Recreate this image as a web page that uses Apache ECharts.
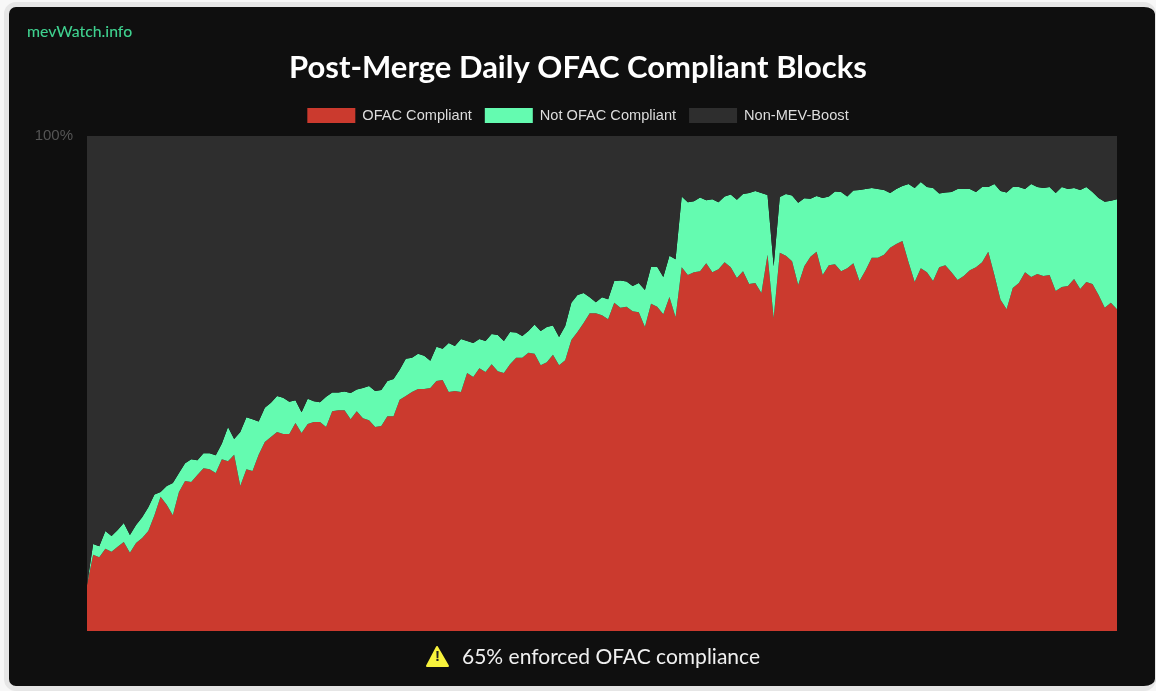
<!DOCTYPE html>
<html>
<head>
<meta charset="utf-8">
<style>
html,body{margin:0;padding:0;width:1156px;height:691px;background:#f7f7f7;overflow:hidden}
#frame{position:absolute;left:4px;top:2px;width:1152px;height:689px;box-sizing:border-box;border:5px solid #e6e6e6;border-right-width:1px;border-radius:12px;background:#0f0f0f}
#chart{position:absolute;left:0;top:0;width:1156px;height:691px}
</style>
<script src="https://cdn.jsdelivr.net/npm/echarts@6/dist/echarts.min.js"></script>
</head>
<body>
<div id="frame"></div>
<div id="chart"></div>
<script>
const titleText = 'Post-Merge Daily OFAC Compliant Blocks';
const siteText = 'mevWatch.info';
const footerText = '65% enforced OFAC compliance';
const seriesNames = ['OFAC Compliant', 'Not OFAC Compliant', 'Non-MEV-Boost'];
const yTickLabels = { 100: '100%' };

const ofacCompliant = [
9.3,15.4,14.9,16.6,16.0,17.0,18.0,15.8,17.8,18.8,20.2,23.4,27.1,25.5,23.4,28.1,30.3,30.1,31.5,32.9,
32.7,31.9,34.7,34.3,35.6,29.3,32.7,32.3,35.6,38.2,39.2,40.2,39.8,39.8,42.0,40.0,41.8,42.2,42.2,41.2,
44.4,44.6,44.6,42.8,44.4,43.0,42.6,41.2,41.4,43.4,43.4,46.7,47.5,48.3,48.9,48.9,49.1,50.5,50.7,48.3,
48.5,48.3,52.1,51.3,53.1,52.3,53.9,52.5,52.1,53.9,55.2,55.2,56.2,56.0,53.7,54.3,55.8,53.7,54.7,58.8,
60.4,62.2,64.2,64.2,63.8,63.0,66.3,65.3,65.5,64.6,64.4,61.4,66.1,65.5,64.0,67.5,63.4,73.5,71.9,72.5,
72.7,74.3,72.5,73.1,74.5,73.5,71.3,72.7,70.1,70.3,68.3,76.0,63.2,76.4,75.8,74.7,69.9,73.7,75.6,76.6,
71.9,73.9,74.1,72.7,73.3,74.3,70.7,72.9,75.4,75.4,76.0,77.4,78.2,78.8,74.5,70.5,73.3,72.5,70.7,73.5,
73.9,72.5,70.9,71.7,72.9,73.5,74.5,76.6,71.9,66.9,65.0,69.3,70.3,72.5,71.5,72.1,71.7,71.9,68.7,69.5,
69.7,71.1,69.1,70.5,70.1,67.9,65.3,66.3,65.0];

const notOfacCompliant = [
0,2.2,2.2,3.6,3.2,3.4,3.8,3.6,3.6,4.2,4.8,4.2,1.0,3.8,6.5,3.8,3.6,4.6,3.0,3.0,
3.2,3.6,3.2,6.9,3.2,10.9,10.5,10.5,6.7,6.9,6.9,7.3,7.3,6.5,4.6,4.2,5.1,4.2,4.0,6.1,
3.8,3.6,3.8,5.3,4.4,6.1,6.9,7.3,7.3,7.1,7.5,6.1,7.5,6.9,7.1,6.7,5.5,6.9,6.3,9.9,
9.1,10.7,6.5,6.9,5.9,6.3,6.1,7.3,6.5,6.5,5.1,4.4,4.4,5.9,6.9,7.1,5.9,5.7,6.9,7.5,
7.5,6.1,3.2,2.2,3.6,4.0,4.4,5.5,5.1,5.1,5.9,7.5,7.5,8.1,7.5,8.3,11.7,14.3,14.7,14.3,
14.9,12.7,14.7,13.5,13.3,14.7,15.8,15.6,18.4,18.6,20.2,12.1,10.5,11.3,12.5,13.3,16.6,13.7,11.7,11.3,
15.6,13.9,14.7,16.0,14.5,14.7,18.4,16.4,14.1,13.9,13.1,11.1,11.1,11.1,15.8,19.0,17.4,17.2,18.8,14.9,
14.7,16.2,18.4,17.6,16.4,15.2,15.2,13.1,18.4,22.0,23.6,20.4,19.4,16.8,18.8,17.6,17.8,17.8,19.8,20.2,
19.6,18.4,20.0,19.2,18.6,19.6,21.4,20.6,22.2];

const nonMevBoost = [
90.7,82.4,82.9,79.8,80.8,79.6,78.2,80.6,78.6,77.0,75.0,72.4,71.9,70.7,70.1,68.1,66.1,65.3,65.5,64.1,
64.1,64.5,62.1,58.8,61.2,59.8,56.8,57.2,57.7,54.9,53.9,52.5,52.9,53.7,53.4,55.8,53.1,53.6,53.8,52.7,
51.8,51.8,51.6,51.9,51.2,50.9,50.5,51.5,51.3,49.5,49.1,47.2,45.0,44.8,44.0,44.4,45.4,42.6,43.0,41.8,
42.4,41.0,41.4,41.8,41.0,41.4,40.0,40.2,41.4,39.6,39.7,40.4,39.4,38.1,39.4,38.6,38.3,40.6,38.4,33.7,
32.1,31.7,32.6,33.6,32.6,33.0,29.3,29.2,29.4,30.3,29.7,31.1,26.4,26.4,28.5,24.2,24.9,12.2,13.4,13.2,
12.4,13.0,12.8,13.4,12.2,11.8,12.9,11.7,11.5,11.1,11.5,11.9,26.3,12.3,11.7,12.0,13.5,12.6,12.7,12.1,
12.5,12.2,11.2,11.3,12.2,11.0,10.9,10.7,10.5,10.7,10.9,11.5,10.7,10.1,9.7,10.5,9.3,10.3,10.5,11.6,
11.4,11.3,10.7,10.7,10.7,11.3,10.3,10.3,9.7,11.1,11.4,10.3,10.3,10.7,9.7,10.3,10.5,10.3,11.5,10.3,
10.7,10.5,10.9,10.3,11.3,12.5,13.3,13.1,12.8];

const days = ofacCompliant.map((_, i) => i + 1);
const colors = ['#cb3a2e', '#64fbb0', '#2e2e2e'];
const values = [ofacCompliant, notOfacCompliant, nonMevBoost];

const chart = echarts.init(document.getElementById('chart'), null, { renderer: 'canvas' });
chart.setOption({
  animation: false,
  backgroundColor: 'transparent',
  grid: { left: 87, right: 39, top: 136, bottom: 60 },
  title: [{
    text: titleText, left: 573, top: 47, textAlign: 'center',
    textStyle: { color: '#ffffff', fontFamily: 'Lato', fontWeight: 'bold', fontSize: 31, letterSpacing: 2.1 }
  }],
  legend: {
    top: 103, left: 'center', data: seriesNames,
    itemWidth: 48, itemHeight: 15, itemGap: 13, icon: 'rect',
    textStyle: { color: '#dddddd', fontFamily: 'Liberation Sans', fontSize: 14.6, padding: [0, 0, 0, 2] }
  },
  xAxis: { type: 'category', data: days, boundaryGap: false, show: false },
  yAxis: {
    type: 'value', min: 0, max: 100, interval: 100,
    axisLine: { show: false }, axisTick: { show: false }, splitLine: { show: false },
    axisLabel: {
      margin: 14, color: '#555555', fontFamily: 'Liberation Sans', fontSize: 15,
      formatter: v => yTickLabels[v] || ''
    }
  },
  series: seriesNames.map((name, k) => ({
    name, type: 'line', stack: 'share', data: values[k],
    showSymbol: false, silent: true,
    lineStyle: { width: 0 },
    itemStyle: { color: colors[k] },
    areaStyle: { color: colors[k], opacity: 1 }
  })),
  graphic: [
    { type: 'text', left: 27, top: 24, style: { text: siteText, fill: '#3fd18f', fontFamily: 'Lato', fontSize: 15.8, fontWeight: 500 } },
    { type: 'polygon', shape: { points: [[437, 647], [448, 666], [427, 666]] },
      style: { fill: '#f7f23c', stroke: '#f7f23c', lineWidth: 2, lineJoin: 'round' } },
    { type: 'text', left: 435, top: 649, style: { text: '!', fill: '#222222', fontFamily: 'Liberation Sans', fontWeight: 'bold', fontSize: 15 } },
    { type: 'text', left: 462, top: 647, style: { text: footerText, fill: '#f0f0f0', fontFamily: 'Lato', fontSize: 21, letterSpacing: 0.5 } }
  ]
});
</script>
</body>
</html>
